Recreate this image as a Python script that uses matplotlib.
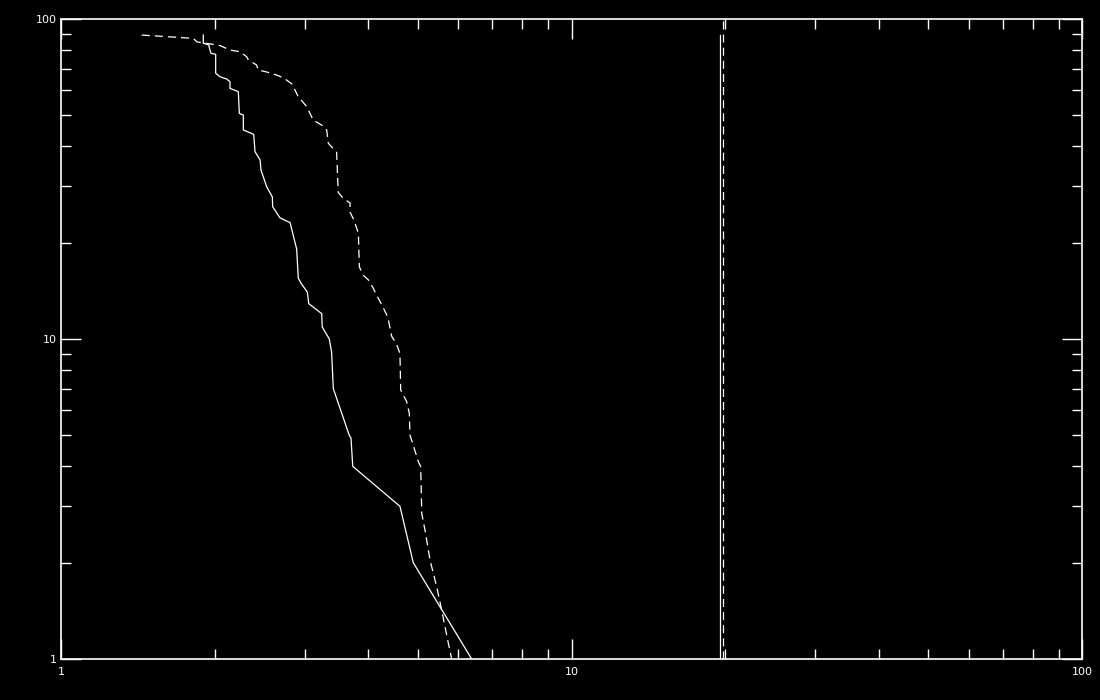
import numpy as np
import matplotlib
matplotlib.use("Agg")
import matplotlib.pyplot as plt
from matplotlib.ticker import LogLocator, FixedLocator, NullFormatter

# cumulative curves (log-log)
solid_x = [1.900, 1.900, 1.950, 1.950, 1.967, 2.009, 2.009, 2.049, 2.112, 2.143,
           2.143, 2.225, 2.235, 2.276, 2.276, 2.385, 2.399, 2.454, 2.465, 2.529,
           2.594, 2.598, 2.686, 2.810, 2.895, 2.916, 2.948, 3.038, 3.057, 3.241,
           3.249, 3.354, 3.389, 3.415, 3.670, 3.699, 3.728, 4.613, 4.898, 6.375]
solid_y = [89.1, 84.0, 82.9, 81.9, 78.1, 77.6, 67.7, 66.0, 64.9, 63.7,
           60.7, 59.3, 50.7, 50.1, 45.0, 43.6, 38.5, 36.3, 33.7, 29.9,
           27.8, 25.9, 23.9, 23.1, 19.1, 15.5, 15.0, 14.0, 12.9, 12.0,
           10.9, 10.0, 9.1, 7.0, 5.0, 4.9, 4.0, 3.0, 2.0, 1.0]

dash_x = [1.439, 1.816, 1.847, 1.941, 2.049, 2.143, 2.242, 2.311, 2.328, 2.417,
          2.432, 2.529, 2.646, 2.735, 2.835, 2.873, 2.916, 2.966, 3.033, 3.074,
          3.120, 3.241, 3.315, 3.339, 3.467, 3.492, 3.573, 3.683, 3.683, 3.750,
          3.824, 3.841, 3.911, 4.000, 4.091, 4.153, 4.248, 4.345, 4.377, 4.444,
          4.546, 4.613, 4.628, 4.755, 4.811, 4.826, 4.885, 5.011, 5.066, 5.089,
          5.164, 5.282, 5.445, 5.569, 5.653, 5.738, 5.826]
dash_y = [89.1, 87.0, 84.8, 83.8, 82.6, 80.0, 79.0, 76.2, 74.5, 71.8,
          69.3, 68.3, 66.8, 65.3, 62.6, 60.0, 57.1, 55.4, 53.1, 50.7,
          48.3, 46.6, 45.0, 40.9, 38.3, 28.7, 27.5, 26.6, 24.9, 23.5,
          21.4, 16.8, 15.8, 15.3, 14.4, 13.7, 12.8, 11.9, 11.5, 10.2,
          9.6, 9.0, 6.93, 6.37, 5.86, 5.01, 4.72, 4.14, 3.99, 2.85,
          2.53, 2.04, 1.68, 1.42, 1.26, 1.12, 1.0]

# vertical marker lines
solid_mark_x = 19.5
solid_mark_y = [1.0, 89.0]
dash_mark_x = 19.8
dash_mark_y = [1.0, 100.0]

major_ticks = [1, 10, 100]
tick_labels = ["1", "10", "100"]

fig = plt.figure(figsize=(11, 7), dpi=100, facecolor="black")
ax = fig.add_axes([61 / 1100, 41 / 700, 1021 / 1100, 640 / 700])
ax.set_facecolor("black")

ax.plot(solid_x, solid_y, color="white", lw=0.9)
ax.plot(dash_x, dash_y, color="white", lw=0.9, dashes=(6.5, 4))
ax.plot([solid_mark_x] * 2, solid_mark_y, color="white", lw=0.9)
ax.plot([dash_mark_x] * 2, dash_mark_y, color="white", lw=0.9, dashes=(6.5, 4))

ax.set_xscale("log")
ax.set_yscale("log")
ax.set_xlim(1, 100)
ax.set_ylim(1, 100)

for a in (ax.xaxis, ax.yaxis):
    a.set_major_locator(FixedLocator(major_ticks))
    a.set_minor_locator(LogLocator(base=10, subs=np.arange(2, 10)))
    a.set_minor_formatter(NullFormatter())
ax.set_xticklabels(tick_labels)
ax.set_yticklabels(tick_labels)

ax.tick_params(which="both", direction="in", colors="white", top=True, right=True,
               labelsize=8, width=1.0)
ax.tick_params(which="major", length=14.4)
ax.tick_params(which="minor", length=7.2)
ax.tick_params(axis="x", which="major", pad=5.5)
ax.tick_params(axis="y", which="major", pad=3)

for s in ax.spines.values():
    s.set_color("white")
    s.set_linewidth(1.2)

fig.savefig("out.png", dpi=100, facecolor="black")
